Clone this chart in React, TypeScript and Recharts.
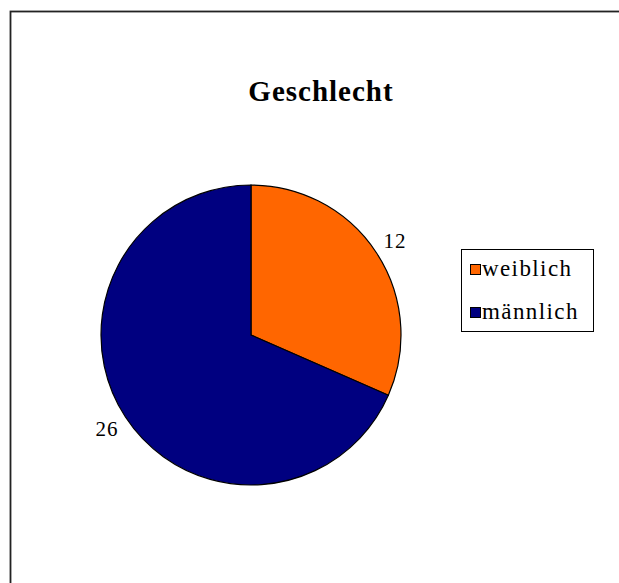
import React from "react";
import { PieChart, Pie, Cell, Legend, Customized } from "recharts";

const categories = ["weiblich", "männlich"];
const values = [12, 26];
const colors = ["#FF6600", "#000080"];
const title = "Geschlecht";

const data = categories.map((name, i) => ({ name, value: values[i] }));

const RAD = Math.PI / 180;
const FONT = "'Liberation Serif', 'Times New Roman', serif";

const renderLabel = (props: any) => {
  const { cx, cy, midAngle, outerRadius, value } = props;
  const r = outerRadius + 22;
  const x = cx + r * Math.cos(-midAngle * RAD);
  const y = cy + r * Math.sin(-midAngle * RAD);
  return (
    <text
      x={x}
      y={y}
      textAnchor="middle"
      dominantBaseline="central"
      fontFamily={FONT}
      fontSize={21}
      letterSpacing={1}
      fill="#000"
    >
      {value}
    </text>
  );
};

const LegendContent = () => {
  return (
    <div
      style={{
        border: "1px solid #000",
        width: 133,
        height: 83,
        boxSizing: "border-box",
        background: "#fff",
        paddingTop: 8,
        paddingLeft: 8,
        fontFamily: FONT,
        fontSize: 23,
        letterSpacing: 1.4,
      }}
    >
      {categories.map((name, i) => (
        <div
          key={name}
          style={{ display: "flex", alignItems: "center", height: 22, marginBottom: 21, whiteSpace: "nowrap" }}
        >
          <span
            style={{
              display: "inline-block",
              width: 9,
              height: 9,
              background: colors[i],
              border: "1px solid #000",
              marginRight: 1,
            }}
          />
          <span style={{ color: "#000" }}>{name}</span>
        </div>
      ))}
    </div>
  );
};

const TitleAndFrame = () => (
  <g>
    <rect x={10.5} y={11.5} width={640} height={600} fill="none" stroke="#222" strokeWidth={1.8} />
    <text
      x={321}
      y={101}
      textAnchor="middle"
      fontFamily={FONT}
      fontWeight="bold"
      fontSize={29}
      letterSpacing={1}
      fill="#000"
    >
      {title}
    </text>
  </g>
);

export default function App() {
  return (
    <div style={{ position: "absolute", left: 0, top: 0, width: 619, height: 583, background: "#fff" }}>
      <PieChart width={619} height={583} margin={{ top: 0, right: 0, bottom: 0, left: 0 }}>
        <Customized component={TitleAndFrame} />
        <Pie
          data={data}
          dataKey="value"
          nameKey="name"
          cx={251}
          cy={335}
          outerRadius={150}
          startAngle={90}
          endAngle={-270}
          stroke="#000"
          strokeWidth={1.2}
          label={renderLabel}
          labelLine={false}
          isAnimationActive={false}
        >
          {data.map((d, i) => (
            <Cell key={d.name} fill={colors[i]} />
          ))}
        </Pie>
        <Legend
          content={LegendContent}
          wrapperStyle={{ position: "absolute", left: 461, top: 249, width: 133, height: 83 }}
        />
      </PieChart>
    </div>
  );
}
